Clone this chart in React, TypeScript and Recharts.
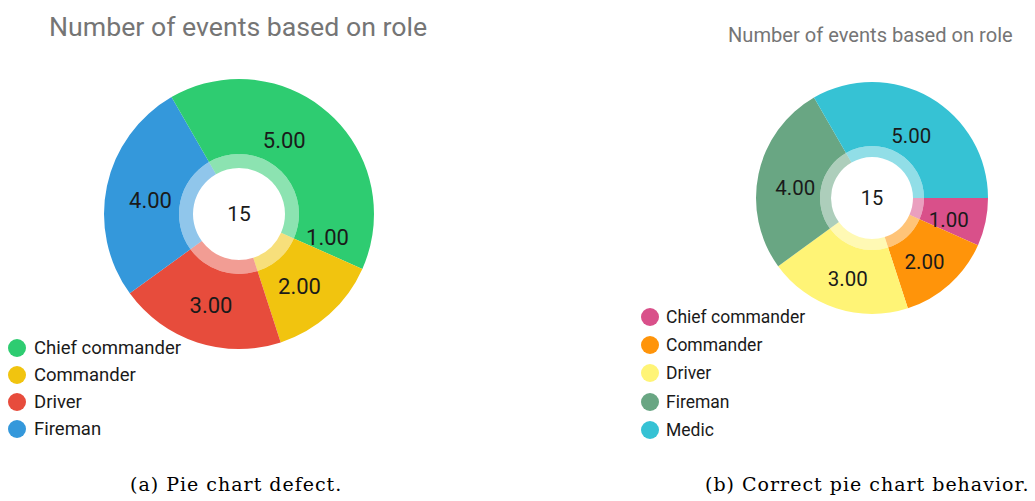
import React from "react";
import { PieChart, Pie, Cell } from "recharts";

const categories = ["Chief commander", "Commander", "Driver", "Fireman", "Medic"];
const eventCounts = [1, 2, 3, 4, 5];
const leftLegendNames = ["Chief commander", "Commander", "Driver", "Fireman"];
const leftColors = ["#2ecc71", "#f1c40f", "#e74c3c", "#3498db"];
const rightColors = ["#d9508a", "#ff940a", "#fff476", "#69a683", "#36c2d4"];
const titleText = "Number of events based on role";
const captionA = "(a) Pie chart defect.";
const captionB = "(b) Correct pie chart behavior.";

const data = categories.map((name, i) => ({ name, value: eventCounts[i] }));
const total = eventCounts.reduce((a, b) => a + b, 0);
const RADIAN = Math.PI / 180;

const FONT = "Roboto, 'Noto Sans', sans-serif";
const SERIF = "'DejaVu Serif', serif";

function makeLabel(rMid: number, fontSize: number, dy: number) {
  return (props: any) => {
    const { cx, cy, midAngle, value } = props;
    const x = cx + rMid * Math.cos(-midAngle * RADIAN);
    const y = cy + rMid * Math.sin(-midAngle * RADIAN) + dy;
    return (
      <text x={x} y={y} textAnchor="middle" dominantBaseline="central" fill="#1a1a1a" fontSize={fontSize} fontFamily={FONT}>
        {Number(value).toFixed(2)}
      </text>
    );
  };
}

function makeCenter(fontSize: number) {
  return (props: any) => {
    const { cx, cy, index } = props;
    if (index !== 0) return <g />;
    return (
      <text x={cx} y={cy} textAnchor="middle" dominantBaseline="central" fill="#1a1a1a" fontSize={fontSize} fontFamily={FONT}>
        {String(total)}
      </text>
    );
  };
}

type DonutProps = {
  width: number;
  height: number;
  cx: number;
  cy: number;
  holeR: number;
  ringR: number;
  outerR: number;
  colors: string[];
  labelSize: number;
  centerSize: number;
  labelDy: number;
};

function Donut(p: DonutProps) {
  const rMid = (p.holeR + p.outerR) / 2;
  return (
    <PieChart width={p.width} height={p.height} margin={{ top: 0, right: 0, bottom: 0, left: 0 }}>
      <Pie
        data={data}
        dataKey="value"
        nameKey="name"
        cx={p.cx}
        cy={p.cy}
        innerRadius={p.holeR}
        outerRadius={p.ringR}
        startAngle={0}
        endAngle={-360}
        stroke="none"
        isAnimationActive={false}
        labelLine={false}
        label={makeCenter(p.centerSize)}
      >
        {data.map((d, i) => (
          <Cell key={d.name} fill={p.colors[i % p.colors.length]} fillOpacity={0.55} />
        ))}
      </Pie>
      <Pie
        data={data}
        dataKey="value"
        nameKey="name"
        cx={p.cx}
        cy={p.cy}
        innerRadius={p.ringR}
        outerRadius={p.outerR}
        startAngle={0}
        endAngle={-360}
        stroke="none"
        isAnimationActive={false}
        labelLine={false}
        label={makeLabel(rMid, p.labelSize, p.labelDy)}
      >
        {data.map((d, i) => (
          <Cell key={d.name} fill={p.colors[i % p.colors.length]} />
        ))}
      </Pie>
    </PieChart>
  );
}

function LegendList(props: { names: string[]; colors: string[]; left: number; top: number; rowH: number; fontSize: number; dot: number; gap: number }) {
  return (
    <div style={{ position: "absolute", left: props.left, top: props.top, fontFamily: FONT, fontSize: props.fontSize, color: "#1a1a1a" }}>
      {props.names.map((n, i) => (
        <div key={n} style={{ display: "flex", alignItems: "center", height: props.rowH, whiteSpace: "nowrap" }}>
          <span
            style={{
              width: props.dot,
              height: props.dot,
              borderRadius: "50%",
              background: props.colors[i % props.colors.length],
              marginRight: props.gap,
              display: "inline-block",
              flex: "none",
            }}
          />
          <span>{n}</span>
        </div>
      ))}
    </div>
  );
}

export default function App() {
  return (
    <div style={{ position: "absolute", left: 0, top: 0, width: 1035, height: 501, background: "#fff", overflow: "hidden" }}>
      <div style={{ position: "absolute", left: 49, top: 11, fontFamily: FONT, fontSize: 26.7, lineHeight: "32px", color: "#757575", whiteSpace: "nowrap" }}>
        {titleText}
      </div>
      <div style={{ position: "absolute", left: 728, top: 22, fontFamily: FONT, fontSize: 20.1, lineHeight: "26px", color: "#757575", whiteSpace: "nowrap" }}>
        {titleText}
      </div>

      <div style={{ position: "absolute", left: 0, top: 0 }}>
        <Donut width={480} height={450} cx={239} cy={214} holeR={46} ringR={60} outerR={135} colors={leftColors} labelSize={22} centerSize={21} labelDy={5} />
      </div>
      <div style={{ position: "absolute", left: 600, top: 0 }}>
        <Donut width={435} height={450} cx={272} cy={198} holeR={41} ringR={52} outerR={116} colors={rightColors} labelSize={20.5} centerSize={20} labelDy={6} />
      </div>

      <LegendList names={leftLegendNames} colors={leftColors} left={8} top={335} rowH={26.8} fontSize={18.5} dot={18} gap={8} />
      <LegendList names={categories} colors={rightColors} left={641} top={303} rowH={28.2} fontSize={17.5} dot={18} gap={7} />

      <div style={{ position: "absolute", left: 130, top: 472, fontFamily: SERIF, fontSize: 19, letterSpacing: 1, lineHeight: "24px", color: "#000", whiteSpace: "nowrap" }}>
        {captionA}
      </div>
      <div style={{ position: "absolute", left: 705, top: 472, fontFamily: SERIF, fontSize: 19, letterSpacing: 1, lineHeight: "24px", color: "#000", whiteSpace: "nowrap" }}>
        {captionB}
      </div>
    </div>
  );
}
